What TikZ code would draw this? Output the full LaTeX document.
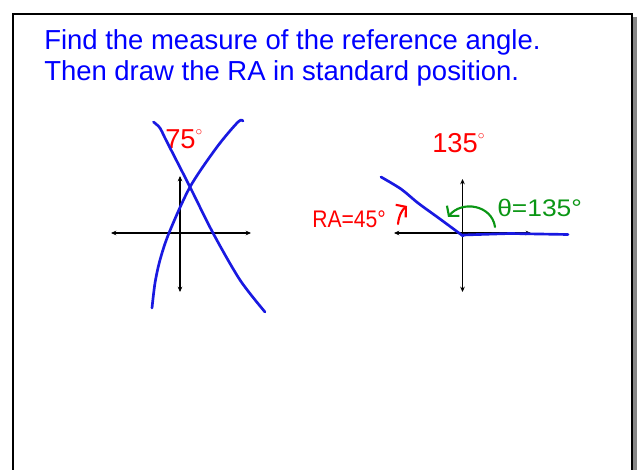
\documentclass[tikz,border=0pt]{standalone}
\usepackage{fontspec}
\setmainfont{Liberation Sans}
\usetikzlibrary{arrows.meta}
\definecolor{inkblue}{RGB}{0,0,255}
\definecolor{penblue}{RGB}{25,25,225}
\definecolor{penred}{RGB}{255,0,0}
\definecolor{pengreen}{RGB}{10,150,20}
\definecolor{shadowgray}{RGB}{135,135,135}
\newcommand{\smalldeg}{\raisebox{0.5em}{$\scriptscriptstyle\circ$}}
\tikzset{
  axis/.style={line width=1.1pt, {Stealth[length=4pt,width=3.5pt]}-{Stealth[length=4pt,width=3.5pt]}},
  pencurve/.style={penblue, line width=2pt, line cap=round, line join=round},
  prompt/.style={inkblue, inner sep=0pt, anchor=base west, font=\fontsize{20.6}{24}\selectfont},
  angletext/.style={penred, inner sep=0pt, anchor=base west, font=\fontsize{20.5}{24}\selectfont},
  handnote/.style={inner sep=0pt, anchor=base west, font=\fontsize{18}{20}\selectfont},
  handarrow/.style={line width=1.6pt, line cap=round, -{Straight Barb[length=5pt,width=12pt]}}
}
\begin{document}
\begin{tikzpicture}[x=0.75pt, y=-0.75pt]
  \useasboundingbox (0,0) rectangle (638,470);
  \fill[shadowgray] (632,17) rectangle (637,470);
  \draw[line width=1.5pt] (13,470) -- (13,14) -- (632,14) -- (632,470);
  \node[prompt] (line1) at (44,50) {Find the measure of the reference angle.};
  \node[prompt] (line2) at (44,81) {Then draw the RA in standard position.};
  \begin{scope}
  \coordinate (west1) at (111,233);
  \coordinate (east1) at (251,233);
  \coordinate (north1) at (180,176);
  \coordinate (south1) at (180,292);
  \draw[axis] (west1) -- (east1);
  \draw[axis] (north1) -- (south1);
  \node[angletext] (given1) at (165,149) {75\smalldeg};
  \draw[pencurve] plot[smooth] coordinates {(153.5,122) (160,128) (166,140) (190,187) (213,233) (240,280) (265,312)};
  \draw[pencurve] plot[smooth] coordinates {(152,308) (155,283) (160,260) (169,233) (190,187) (217,147) (238,122) (243,121)};
  \end{scope}
  \begin{scope}
  \coordinate (west2) at (394,233);
  \coordinate (east2) at (531,233);
  \coordinate (north2) at (462.5,179);
  \coordinate (south2) at (462.5,292);
  \coordinate (origin2) at (463,235);
  \draw[axis] (west2) -- (east2);
  \draw[axis] (north2) -- (south2);
  \node[angletext] (given2) at (432,153) {135\smalldeg};
  \draw[pencurve] plot[smooth] coordinates {(381,177) (401,189) (418,203) (440,219) (463,236)};
  \draw[pencurve] (origin2) -- (510,233.5) -- (568,234.5);
  \node[handnote, penred] (ra) at (312,227.5) {\scalebox{0.88}[1]{RA=45°}};
  \node[handnote, pengreen] (theta) at (497,216.5) {\scalebox{1.1}[1]{θ=135°}};
  \draw[handarrow, penred] (398,224) .. controls (399,215) and (402,210) .. (407,206);
  \draw[handarrow, pengreen] (495,227) .. controls (492,205) and (462,200) .. (448,217);
  \end{scope}
\end{tikzpicture}
\end{document}
